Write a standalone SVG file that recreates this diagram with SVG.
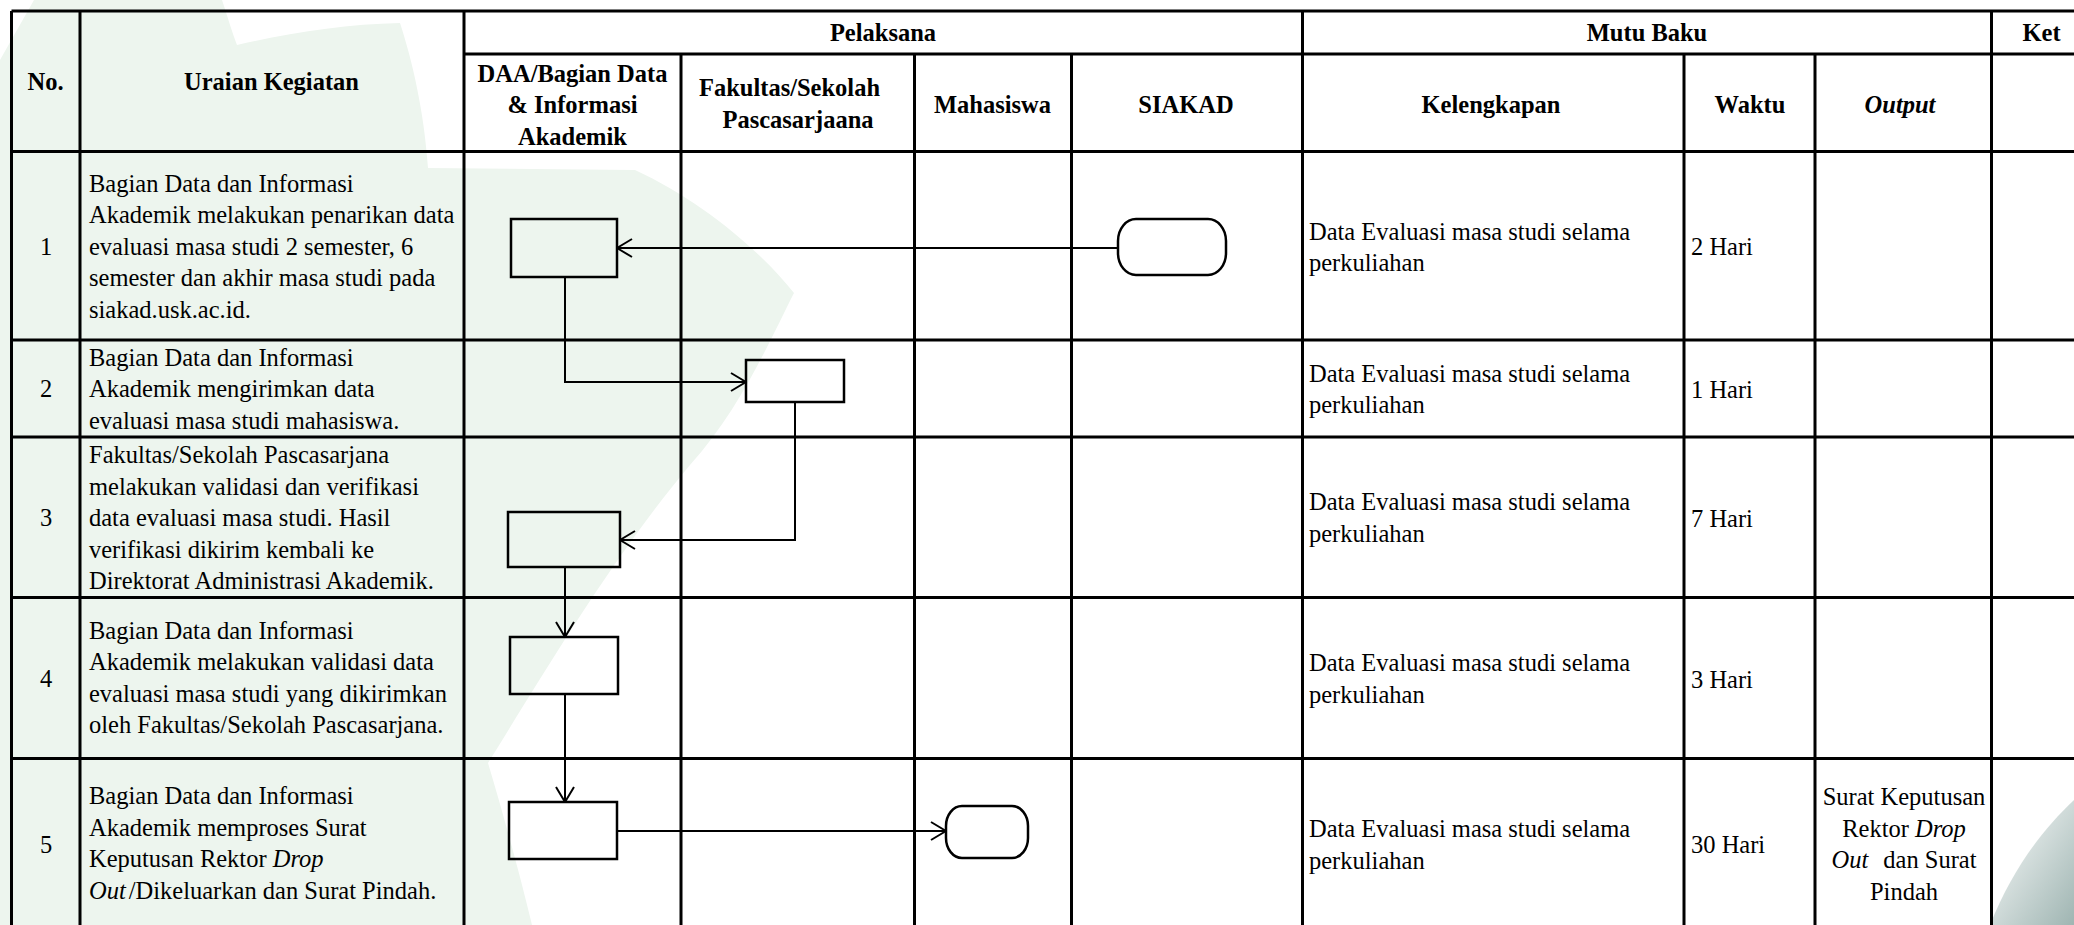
<svg xmlns="http://www.w3.org/2000/svg" width="2074" height="925" viewBox="0 0 2074 925">
<defs>
<style>
text{font-family:"Liberation Serif","Times New Roman",serif;font-size:24.5px;fill:#000}
.b{font-weight:bold}
.m{text-anchor:middle}
.i{font-style:italic}
.grid{stroke:#000;stroke-width:3;fill:none}
.node{stroke:#000;stroke-width:2.5;fill:none}
.conn{stroke:#000;stroke-width:2;fill:none}
</style>
<marker id="arr" viewBox="0 0 17 20" refX="16" refY="10" markerWidth="17" markerHeight="20" markerUnits="userSpaceOnUse" orient="auto">
<path d="M1,1 L16,10 L1,19" fill="none" stroke="#000" stroke-width="2"/>
</marker>
<linearGradient id="corner" x1="0" y1="0" x2="1" y2="1">
<stop offset="0" stop-color="#ffffff"/>
<stop offset="1" stop-color="#9fb5b2"/>
</linearGradient>
</defs>
<rect width="2074" height="925" fill="#ffffff"/>
<g id="watermark">
<path d="M0,60 L34,0 L222,0 C228,18 232,32 237,45 C290,33 345,24 400,23 C412,60 424,110 428,168 L635,170 C700,200 760,250 794,293 C770,340 740,410 690,465 C610,560 540,680 488,763 C505,820 520,875 532,925 L0,925 Z" fill="#edf5ee"/>
<path d="M1990,925 C2012,870 2042,830 2074,800 L2074,925 Z" fill="url(#corner)"/>
</g>
<g id="table">
<path class="grid" d="M11.5,11 H2074 M464,54 H2074 M11.5,151.5 H2074 M11.5,340 H2074 M11.5,437 H2074 M11.5,597.5 H2074 M11.5,758.5 H2074"/>
<path class="grid" d="M11.5,11 V925 M80,11 V925 M464,11 V925 M681,54 V925 M914.5,54 V925 M1071.5,54 V925 M1302.5,11 V925 M1684,54 V925 M1815,54 V925 M1991.5,11 V925"/>
</g>
<g id="headers">
<text class="b m" x="45.5" y="90">No.</text>
<text class="b m" x="271.5" y="90">Uraian Kegiatan</text>
<text class="b m" x="883" y="41">Pelaksana</text>
<text class="b m" x="1647" y="41">Mutu Baku</text>
<text class="b m" x="2041.5" y="41">Ket</text>
<text class="b m" x="572.5" y="81.5">DAA/Bagian Data</text>
<text class="b m" x="572.5" y="113">&amp; Informasi</text>
<text class="b m" x="572.5" y="144.5">Akademik</text>
<text class="b m" x="789.5" y="96">Fakultas/Sekolah</text>
<text class="b m" x="798" y="127.5">Pascasarjaana</text>
<text class="b m" x="992.5" y="113">Mahasiswa</text>
<text class="b m" x="1186" y="113">SIAKAD</text>
<text class="b m" x="1491" y="113">Kelengkapan</text>
<text class="b m" x="1750" y="113">Waktu</text>
<text class="b i m" x="1900" y="113">Output</text>
</g>
<g id="row1">
<text class="m" x="46" y="255">1</text>
<text x="89" y="191.5">Bagian Data dan Informasi</text>
<text x="89" y="223">Akademik melakukan penarikan data</text>
<text x="89" y="254.7">evaluasi masa studi 2 semester, 6</text>
<text x="89" y="286.3">semester dan akhir masa studi pada</text>
<text x="89" y="318">siakad.usk.ac.id.</text>
<text x="1309" y="239.5">Data Evaluasi masa studi selama</text>
<text x="1309" y="271">perkuliahan</text>
<text x="1691" y="255">2 Hari</text>
</g>
<g id="row2">
<text class="m" x="46" y="397">2</text>
<text x="89" y="365.5">Bagian Data dan Informasi</text>
<text x="89" y="397">Akademik mengirimkan data</text>
<text x="89" y="428.5">evaluasi masa studi mahasiswa.</text>
<text x="1309" y="381.5">Data Evaluasi masa studi selama</text>
<text x="1309" y="413">perkuliahan</text>
<text x="1691" y="397.5">1 Hari</text>
</g>
<g id="row3">
<text class="m" x="46" y="526">3</text>
<text x="89" y="463">Fakultas/Sekolah Pascasarjana</text>
<text x="89" y="494.5">melakukan validasi dan verifikasi</text>
<text x="89" y="526">data evaluasi masa studi. Hasil</text>
<text x="89" y="557.5">verifikasi dikirim kembali ke</text>
<text x="89" y="589">Direktorat Administrasi Akademik.</text>
<text x="1309" y="510">Data Evaluasi masa studi selama</text>
<text x="1309" y="541.5">perkuliahan</text>
<text x="1691" y="526.5">7 Hari</text>
</g>
<g id="row4">
<text class="m" x="46" y="687">4</text>
<text x="89" y="638.5">Bagian Data dan Informasi</text>
<text x="89" y="670">Akademik melakukan validasi data</text>
<text x="89" y="701.6">evaluasi masa studi yang dikirimkan</text>
<text x="89" y="733.2">oleh Fakultas/Sekolah Pascasarjana.</text>
<text x="1309" y="671">Data Evaluasi masa studi selama</text>
<text x="1309" y="702.5">perkuliahan</text>
<text x="1691" y="688">3 Hari</text>
</g>
<g id="row5">
<text class="m" x="46" y="852.5">5</text>
<text x="89" y="804">Bagian Data dan Informasi</text>
<text x="89" y="835.6">Akademik memproses Surat</text>
<text x="89" y="867.2">Keputusan Rektor <tspan class="i">Drop</tspan></text>
<text x="89" y="898.8"><tspan class="i">Out</tspan><tspan dx="3">/Dikeluarkan dan Surat Pindah.</tspan></text>
<text x="1309" y="837">Data Evaluasi masa studi selama</text>
<text x="1309" y="868.5">perkuliahan</text>
<text x="1691" y="852.5">30 Hari</text>
<text class="m" x="1904" y="805">Surat Keputusan</text>
<text class="m" x="1904" y="836.6">Rektor <tspan class="i">Drop</tspan></text>
<text class="m" x="1904" y="868.2"><tspan class="i">Out</tspan><tspan dx="15">dan Surat</tspan></text>
<text class="m" x="1904" y="899.8">Pindah</text>
</g>
<g id="connectors">
<path class="conn" d="M1118,248 L617,248" marker-end="url(#arr)"/>
<path class="conn" d="M565,277 L565,382 L746,382" marker-end="url(#arr)"/>
<path class="conn" d="M795,401 L795,540 L620,540" marker-end="url(#arr)"/>
<path class="conn" d="M565,567 L565,637" marker-end="url(#arr)"/>
<path class="conn" d="M565,694 L565,802" marker-end="url(#arr)"/>
<path class="conn" d="M617,831 L946,831" marker-end="url(#arr)"/>
</g>
<g id="n1"><rect class="node" x="511" y="219" width="106" height="58"/></g>
<g id="n_siakad"><rect class="node" x="1118" y="219" width="108" height="56" rx="18" ry="22"/></g>
<g id="n2"><rect class="node" x="746" y="360" width="98" height="42"/></g>
<g id="n3"><rect class="node" x="508" y="512" width="112" height="55"/></g>
<g id="n4"><rect class="node" x="510" y="637" width="108" height="57"/></g>
<g id="n5"><rect class="node" x="509" y="802" width="108" height="57"/></g>
<g id="n_mhs"><rect class="node" x="946" y="806" width="82" height="52" rx="16" ry="20"/></g>
</svg>
